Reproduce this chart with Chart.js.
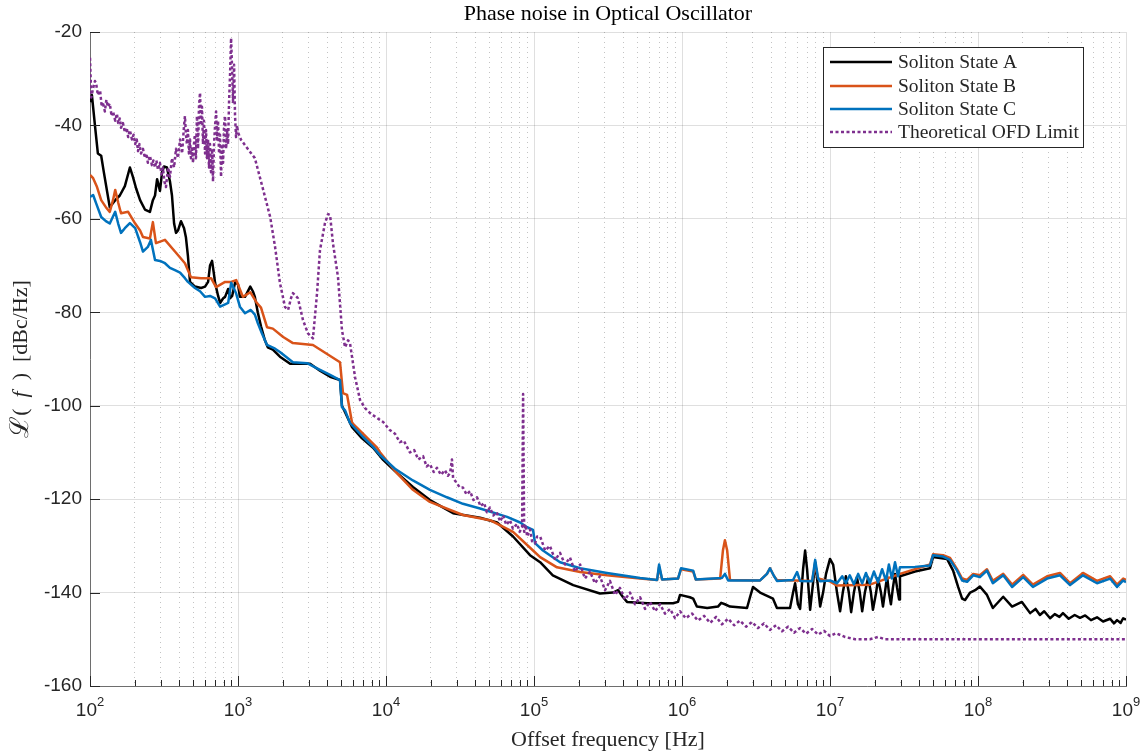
<!DOCTYPE html>
<html>
<head>
<meta charset="utf-8">
<script src="https://cdn.jsdelivr.net/npm/chart.js@4.4.1/dist/chart.umd.min.js"></script>
<style>
  html, body { margin: 0; padding: 0; background: #fff; }
  canvas { display: block; }
</style>
</head>
<body>
<canvas id="chart" width="1147" height="754"></canvas>
<script>
// values: [offset frequency Hz, dBc/Hz]
const stateA = [
  [100,-35],[103,-33.5],[108,-40],[113,-46],[119,-46.5],[124,-50],[136,-57.5],[148,-56],[159,-55],[172,-53],
  [186,-49],[195,-51],[205,-53.5],[218,-56],[235,-58],[254,-58.5],[266,-56],[275,-55],[284,-51.5],[297,-54],
  [307,-50],[316,-48.8],[331,-49],[347,-52],[358,-55],[370,-61],[381,-63],[393,-62.5],[412,-60.5],[432,-62],
  [445,-64],[459,-68],[474,-73.5],[512,-74.5],[563,-74.8],[599,-74.5],[628,-73.5],[647,-70],[668,-69],[689,-72],
  [700,-73.7],[734,-76.5],[757,-78],[794,-77],[818,-76.7],[858,-75],[885,-77],[913,-76.5],[957,-73.5],[1000,-74],
  [1030,-76.7],[1115,-76.7],[1210,-74.5],[1260,-75.5],[1300,-76.7],[1360,-80],[1430,-83],[1520,-86],[1590,-87.5],[1720,-88],
  [1920,-89.5],[2250,-91],[2500,-91],[3070,-91],[3580,-92.5],[4190,-93.8],[4890,-94.5],[5040,-100],[5290,-101.4],[5900,-104.6],
  [6890,-107],[8180,-109],[9570,-111.6],[1.15e4,-114],[1.52e4,-117.4],[1.98e4,-120.2],[2.84e4,-123],[4.32e4,-124],[5.63e4,-125],[7.22e4,-128],
  [9.4e4,-132],[1.10e5,-133.5],[1.34e5,-136.3],[1.84e5,-138.4],[2.79e5,-140.2],[3.42e5,-140],[3.70e5,-139.5],[4.0e5,-141],[4.25e5,-142],[5.81e5,-142.3],
  [8.7e5,-142.3],[9.4e5,-142],[9.7e5,-140.5],[1.13e6,-141],[1.19e6,-141.3],[1.26e6,-143],[1.48e6,-143.3],[1.75e6,-143],[1.84e6,-142.2],[1.95e6,-142.5],
  [2.11e6,-143],[2.75e6,-143.3],[2.88e6,-141],[3.02e6,-138.8],[3.37e6,-140],[4.12e6,-141.3],[4.38e6,-143.3],[5.37e6,-143.3],[5.63e6,-140],[5.81e6,-138],
  [6.07e6,-142.5],[6.28e6,-143.5],[6.58e6,-135],[6.79e6,-131],[7.0e6,-135],[7.34e6,-143.7],[7.68e6,-138],[7.94e6,-133.5],[8.18e6,-137],[8.58e6,-143],
  [8.98e6,-140],[9.4e6,-136],[1.0e7,-132.8],[1.05e7,-134],[1.115e7,-140],[1.17e7,-144],[1.22e7,-140],[1.28e7,-136.5],[1.34e7,-140],[1.39e7,-144.2],
  [1.45e7,-140],[1.52e7,-136.7],[1.59e7,-140],[1.65e7,-144],[1.72e7,-140],[1.81e7,-136.8],[1.89e7,-140],[1.95e7,-143.7],[2.05e7,-140],[2.11e7,-137],
  [2.21e7,-140],[2.28e7,-143],[2.35e7,-140],[2.43e7,-136.5],[2.50e7,-140],[2.58e7,-142.5],[2.66e7,-139],[2.75e7,-136],[2.84e7,-139],[2.93e7,-141.5],
  [2.97e7,-136.5],[3.75e7,-135.5],[4.74e7,-134.8],[4.97e7,-132.4],[6.18e7,-132.8],[6.79e7,-135.3],[7.34e7,-138.8],[7.81e7,-141.3],[8.18e7,-141.6],[8.85e7,-140],
  [9.57e7,-139.5],[1.03e8,-138.7],[1.15e8,-140.5],[1.26e8,-143.3],[1.48e8,-140.9],[1.70e8,-143],[1.98e8,-142],[2.25e8,-144.4],[2.45e8,-143.5],[2.62e8,-144.8],
  [2.8e8,-144],[3.07e8,-145.5],[3.3e8,-144.6],[3.55e8,-145.2],[3.75e8,-144.4],[4.1e8,-145.6],[4.5e8,-144.8],[4.89e8,-145.4],[5.3e8,-144.9],[5.8e8,-145.9],
  [6.37e8,-145.3],[7.0e8,-146.2],[7.81e8,-145.6],[8.3e8,-146.6],[8.7e8,-145.9],[9.2e8,-146.5],[9.57e8,-145.5],[1e9,-145.8]
];

const stateB = [
  [100,-50.6],[105,-51.3],[111,-53],[119,-56],[128,-57.5],[136,-58.5],[143,-56],[148,-53.8],[155,-56.5],[162,-58.8],
  [181,-58.5],[202,-61],[218,-62.5],[228,-63.9],[254,-64.2],[266,-60.7],[279,-65.2],[321,-64.5],[375,-67],[438,-69.5],
  [481,-72.5],[563,-72.7],[658,-72.7],[711,-74.6],[818,-73.5],[899,-73.5],[972,-73.1],[1080,-76.7],[1210,-75.7],[1340,-78],
  [1430,-79],[1570,-83.2],[1720,-83.5],[2020,-85.3],[2350,-86.6],[3210,-87],[4890,-90.7],[5120,-97.3],[5460,-97.7],[5900,-103.7],
  [8700,-109],[9130,-110],[1.19e4,-114.5],[1.52e4,-118],[1.98e4,-120.6],[3.31e4,-123.4],[5.04e4,-124.5],[7.22e4,-127],[9.85e4,-131],[1.10e5,-132.4],
  [1.43e5,-134.6],[2.05e5,-135.6],[3.11e5,-136.3],[5.21e5,-137],[6.79e5,-137.3],[7.0e5,-134.5],[7.34e5,-137.2],[9.4e5,-137],[9.85e5,-135],[1.19e6,-135.5],
  [1.24e6,-137.2],[1.81e6,-137],[1.89e6,-131],[1.95e6,-128.8],[2.02e6,-131],[2.11e6,-137.3],[3.37e6,-137.4],[3.75e6,-136],[3.93e6,-134.8],[4.19e6,-136.5],
  [4.38e6,-137.3],[7.57e6,-137.5],[7.94e6,-134],[8.31e6,-137],[1e7,-137.6],[1.115e7,-138.5],[1.86e7,-138.3],[2.97e7,-136],[4.74e7,-134],[4.97e7,-131.8],
  [5.81e7,-132],[6.47e7,-132.6],[7.22e7,-135],[7.81e7,-137],[8.44e7,-137.3],[9.28e7,-136],[1.03e8,-136.3],[1.15e8,-135],[1.26e8,-137.5],[1.48e8,-136],
  [1.70e8,-138.3],[2.02e8,-136.2],[2.35e8,-138.3],[2.93e8,-136.5],[3.58e8,-135.8],[4.19e8,-138],[5.12e8,-135.8],[6.37e8,-137.5],[7.81e8,-136.5],[8.7e8,-138.3],
  [9.57e8,-137],[1e9,-137.3]
];

const stateC = [
  [100,-55.3],[105,-54.9],[111,-57],[119,-59.6],[128,-60.5],[136,-61],[143,-59.5],[148,-58.5],[155,-61],[162,-63],
  [172,-62],[186,-60.9],[202,-62],[218,-65],[228,-67],[246,-66],[258,-64.5],[275,-68.8],[297,-69],[321,-69.5],
  [347,-70.5],[375,-71],[406,-71.5],[438,-72.7],[459,-73.5],[512,-74.8],[554,-75.5],[599,-76.7],[647,-76.5],[700,-77],
  [757,-78.8],[818,-78.3],[858,-78],[899,-73.7],[942,-75],[972,-76],[1030,-78.8],[1115,-80.2],[1220,-79.5],[1300,-80.5],
  [1360,-82.3],[1450,-84.5],[1570,-87],[1780,-87.8],[1920,-88.5],[2350,-90.7],[2930,-90.9],[3420,-92],[4190,-93.4],[4890,-94.5],
  [5040,-100.3],[5290,-101],[5710,-103.7],[7000,-106.7],[8180,-108.8],[9130,-110.6],[1.15e4,-113.5],[1.52e4,-116],[1.98e4,-118],[2.58e4,-119.6],
  [3.31e4,-121],[4.32e4,-122],[6.58e4,-123.8],[8.06e4,-125],[8.98e4,-126],[9.85e4,-126.6],[1.016e5,-129.4],[1.15e5,-131],[1.28e5,-132],[1.50e5,-133.5],
  [2.05e5,-134.8],[3.11e5,-135.8],[5.21e5,-136.9],[6.79e5,-137.3],[7.0e5,-134],[7.34e5,-137.2],[9.4e5,-137],[9.85e5,-134.8],[1.19e6,-135.3],[1.24e6,-137.2],
  [1.86e6,-136.9],[1.95e6,-136],[2.05e6,-137.4],[3.37e6,-137.4],[3.75e6,-136],[3.93e6,-134.8],[4.19e6,-136.5],[4.38e6,-137.5],[5.63e6,-137.3],[5.99e6,-135.6],
  [6.28e6,-137.5],[7.57e6,-137.6],[7.94e6,-133],[8.31e6,-137],[8.58e6,-137.6],[1e7,-137.4],[1.115e7,-138],[1.21e7,-136.5],[1.28e7,-138],[1.36e7,-136.3],
  [1.45e7,-138.2],[1.55e7,-136],[1.65e7,-138],[1.75e7,-135.8],[1.86e7,-138],[1.98e7,-135.5],[2.11e7,-137.8],[2.25e7,-135],[2.39e7,-137.5],[2.50e7,-134],
  [2.62e7,-137],[2.75e7,-133.5],[2.88e7,-136.5],[2.97e7,-134.6],[3.75e7,-134.5],[4.74e7,-134.2],[4.97e7,-132],[5.81e7,-132.3],[6.47e7,-133],[7.22e7,-135.3],
  [7.81e7,-137.4],[8.44e7,-137.7],[9.28e7,-136.3],[1.03e8,-136.7],[1.15e8,-135.3],[1.26e8,-138],[1.48e8,-136.3],[1.70e8,-138.8],[2.02e8,-136.7],[2.35e8,-138.8],
  [2.93e8,-137],[3.58e8,-136.3],[4.19e8,-138.4],[5.12e8,-136.3],[6.37e8,-138],[7.81e8,-137],[8.7e8,-138.8],[9.57e8,-137.4],[1e9,-137.8]
];

const ofdLimit = [
  [100,-25.5],[102,-34],[105,-32],[108,-30.5],[110,-31],[113,-33.5],[117,-32.5],[120,-36],[122,-35],[126,-37],
  [129,-34.5],[132,-36],[136,-35.3],[140,-38],[143,-37],[148,-39],[152,-37.5],[155,-39.5],[159,-38.5],[162,-40.5],
  [167,-39.5],[172,-41.5],[177,-40.5],[181,-42.5],[186,-41],[192,-43],[197,-42],[202,-44],[207,-43],[211,-45.5],
  [216,-44],[221,-46],[228,-45],[235,-47],[240,-46],[246,-48],[254,-46.5],[262,-48.5],[268,-47.5],[275,-49],
  [281,-47.5],[288,-49.5],[297,-48],[304,-50.5],[311,-49],[318,-52],[326,-53.2],[337,-49],[347,-51],[358,-47],
  [370,-49],[381,-45],[393,-47],[406,-43],[419,-46],[432,-40],[438,-38],[445,-42],[452,-44],[459,-41],
  [466,-46],[474,-43],[481,-47],[489,-45],[497,-48],[504,-44],[512,-42],[520,-47],[528,-38],[537,-45],
  [545,-36],[554,-33],[562,-40],[571,-36],[580,-44],[589,-39],[599,-46],[608,-41],[618,-47],[627,-43],
  [637,-49],[647,-44],[657,-50],[668,-45],[678,-52],[689,-44],[700,-40],[711,-37],[722,-43],[733,-39],
  [745,-46],[756,-42],[768,-51],[780,-44],[793,-48],[805,-40],[818,-38],[831,-45],[844,-41],[857,-44],
  [870,-35],[884,-29],[898,-21.3],[912,-28],[926,-35],[941,-27],[955,-38],[970,-42.5],[985,-40],[1000,-41.5],
  [1050,-43.1],[1150,-44.8],[1300,-47],[1480,-53.8],[1650,-59.6],[1780,-66],[1920,-73.7],[2080,-78.9],[2180,-79.5],[2280,-77],
  [2350,-75.9],[2460,-76.5],[2540,-77],[2750,-81.7],[2970,-84.5],[3210,-85.6],[3420,-75.9],[3580,-66.7],[3870,-60.9],[4060,-59],
  [4190,-59.2],[4380,-65.2],[4740,-72.5],[5040,-83.8],[5290,-87.5],[5540,-86],[5710,-86.6],[6180,-93.9],[6680,-98.8],[7220,-100.5],
  [7810,-101.6],[8580,-102.5],[9570,-103.5],[1.06e4,-105.2],[1.15e4,-106],[1.24e4,-107.8],[1.32e4,-107.5],[1.45e4,-110],[1.55e4,-109.5],[1.65e4,-111.5],
  [1.78e4,-110.8],[1.88e4,-113],[1.98e4,-112.5],[2.1e4,-114.2],[2.21e4,-113.3],[2.35e4,-114.8],[2.50e4,-113.8],[2.62e4,-115],[2.71e4,-114.4],[2.79e4,-111.5],
  [2.84e4,-115.5],[3.0e4,-116.5],[3.15e4,-117.5],[3.31e4,-117.5],[3.5e4,-119],[3.7e4,-118.3],[3.9e4,-120.2],[4.12e4,-119.6],[4.35e4,-121.5],[4.6e4,-120.8],
  [4.8e4,-122.8],[5.04e4,-121.8],[5.3e4,-123.5],[5.6e4,-122.8],[5.9e4,-124.8],[6.18e4,-123.5],[6.5e4,-125.5],[6.89e4,-124.5],[7.2e4,-126.3],[7.68e4,-125.3],
  [8.0e4,-127],[8.31e4,-126],[8.44e4,-97.5],[8.58e4,-127],[8.8e4,-125.5],[8.98e4,-128],[9.4e4,-126.5],[9.7e4,-129],[1.016e5,-129.5],[1.05e5,-128],
  [1.10e5,-128],[1.19e5,-131],[1.28e5,-130],[1.39e5,-133],[1.50e5,-131.5],[1.62e5,-134],[1.75e5,-132.5],[1.89e5,-135.5],[2.05e5,-134],[2.21e5,-137],
  [2.39e5,-135.5],[2.58e5,-138],[2.79e5,-136.5],[3.02e5,-139.5],[3.26e5,-137.5],[3.53e5,-140.5],[3.81e5,-139],[4.12e5,-141.5],[4.45e5,-140],[4.81e5,-142.5],
  [5.21e5,-141],[5.63e5,-143.5],[6.07e5,-142],[6.58e5,-144],[7.11e5,-142.5],[7.68e5,-144.5],[8.31e5,-143.5],[8.98e5,-145.5],[9.7e5,-144],[1.06e6,-145.5],
  [1.17e6,-144.5],[1.28e6,-146],[1.41e6,-145],[1.55e6,-146.5],[1.70e6,-145.2],[1.86e6,-146.8],[2.05e6,-145.6],[2.25e6,-147],[2.46e6,-146],[2.71e6,-147.3],
  [2.97e6,-146.3],[3.26e6,-147.6],[3.58e6,-146.6],[3.93e6,-148],[4.32e6,-147],[4.74e6,-148.3],[5.21e6,-147.3],[5.71e6,-148.6],[6.28e6,-147.6],[6.89e6,-148.8],
  [7.57e6,-147.8],[8.31e6,-149],[9.13e6,-148.2],[1e7,-149.3],[1.10e7,-148.7],[1.26e7,-149.5],[1.48e7,-150],[1.86e7,-150],[2.11e7,-149.5],[2.35e7,-150],
  [1e9,-150]
];

const seriesNames = ['Soliton State A', 'Soliton State B', 'Soliton State C', 'Theoretical OFD Limit'];
const xDecades = [2, 3, 4, 5, 6, 7, 8, 9];
const yTicks = [-160, -140, -120, -100, -80, -60, -40, -20];
const titleText = 'Phase noise in Optical Oscillator';
const xTitle = 'Offset frequency [Hz]';

const colors = ['#000000', '#D95319', '#0072BD', '#7E2F8E'];
const majorGrid = 'rgba(38,38,38,0.15)';
const minorGrid = 'rgba(38,38,38,0.28)';
const serif = '"Liberation Serif", "DejaVu Serif", serif';
const sans = '"Liberation Sans", Arial, sans-serif';

// grid/tick positions: 1..9 x 10^k
const xGrid = [];
xDecades.slice(0, -1).forEach(k => { for (let m = 1; m < 10; m++) xGrid.push(m * Math.pow(10, k)); });
xGrid.push(Math.pow(10, xDecades[xDecades.length - 1]));

const isDecade = v => v != null && Math.abs(Math.log10(v) - Math.round(Math.log10(v))) < 1e-9;

const decorations = {
  id: 'decorations',
  afterDraw(chart) {
    const { ctx, chartArea: a, scales: { x, y } } = chart;
    ctx.save();

    // inward tick marks
    ctx.strokeStyle = '#262626';
    ctx.lineWidth = 1;
    ctx.setLineDash([]);
    xGrid.forEach(v => {
      const px = Math.round(x.getPixelForValue(v)) + 0.5;
      const len = isDecade(v) ? 10 : 6;
      ctx.beginPath(); ctx.moveTo(px, a.bottom); ctx.lineTo(px, a.bottom - len); ctx.stroke();
    });
    yTicks.forEach(v => {
      const py = Math.round(y.getPixelForValue(v)) + 0.5;
      ctx.beginPath(); ctx.moveTo(a.left, py); ctx.lineTo(a.left + 10, py); ctx.stroke();
    });

    // x tick labels 10^k
    ctx.fillStyle = '#262626';
    ctx.textBaseline = 'alphabetic';
    ctx.textAlign = 'left';
    xDecades.forEach(k => {
      const px = x.getPixelForValue(Math.pow(10, k));
      ctx.font = '19px ' + sans;
      const w1 = ctx.measureText('10').width;
      ctx.font = '13px ' + sans;
      const w2 = ctx.measureText(String(k)).width;
      const x0 = px - (w1 + w2) / 2;
      ctx.font = '19px ' + sans;
      ctx.fillText('10', x0, 716);
      ctx.font = '13px ' + sans;
      ctx.fillText(String(k), x0 + w1, 706);
    });

    // titles
    const cx = (a.left + a.right) / 2;
    ctx.textAlign = 'center';
    ctx.textBaseline = 'middle';
    ctx.fillStyle = '#000';
    ctx.font = '22px ' + serif;
    ctx.fillText(titleText, cx, 14);
    ctx.fillStyle = '#262626';
    ctx.font = '22px ' + serif;
    ctx.fillText(xTitle, cx, 740);

    // y title: ℒ( f ) [dBc/Hz]
    ctx.save();
    ctx.translate(21, (a.top + a.bottom) / 2);
    ctx.rotate(-Math.PI / 2);
    const parts = [['ℒ', '26px ' + serif], ['(  ', '22px ' + serif], ['f', 'italic 22px ' + serif], ['  )  [dBc/Hz]', '22px ' + serif]];
    let total = 0;
    parts.forEach(p => { ctx.font = p[1]; total += ctx.measureText(p[0]).width; });
    let tx = -total / 2;
    ctx.textAlign = 'left';
    parts.forEach(p => { ctx.font = p[1]; ctx.fillText(p[0], tx, 0); tx += ctx.measureText(p[0]).width; });
    ctx.restore();

    // legend box
    const lx = 823, ly = 47, lw = 260, lh = 100;
    ctx.fillStyle = '#fff';
    ctx.fillRect(lx, ly, lw, lh);
    ctx.strokeStyle = '#262626';
    ctx.lineWidth = 1;
    ctx.strokeRect(lx + 0.5, ly + 0.5, lw, lh);
    const rows = [62, 86, 109, 132];
    ctx.textAlign = 'left';
    ctx.textBaseline = 'middle';
    seriesNames.forEach((name, i) => {
      ctx.strokeStyle = colors[i];
      ctx.lineWidth = 2.5;
      ctx.setLineDash(i === 3 ? [3, 2.5] : []);
      ctx.beginPath(); ctx.moveTo(830, rows[i]); ctx.lineTo(892, rows[i]); ctx.stroke();
      ctx.setLineDash([]);
      ctx.fillStyle = '#262626';
      ctx.font = '19.5px ' + serif;
      ctx.fillText(name, 898, rows[i] + 1);
    });

    ctx.restore();
  }
};

const datasets = [stateA, stateB, stateC, ofdLimit].map((d, i) => ({
  label: seriesNames[i],
  data: d.map(([f, v]) => ({ x: f, y: v })),
  borderColor: colors[i],
  backgroundColor: colors[i],
  borderWidth: 2.5,
  borderDash: i === 3 ? [3, 2.5] : [],
  borderJoinStyle: 'round',
  pointRadius: 0,
  tension: 0,
  fill: false,
  order: 4 - i
}));

new Chart(document.getElementById('chart'), {
  type: 'line',
  data: { datasets },
  options: {
    responsive: false,
    animation: false,
    devicePixelRatio: 1,
    layout: { padding: { top: 32, right: 21, left: 0, bottom: 0 } },
    plugins: {
      legend: { display: false },
      title: { display: false },
      tooltip: { enabled: false }
    },
    scales: {
      x: {
        type: 'logarithmic',
        min: 1e2,
        max: 1e9,
        afterBuildTicks: s => { s.ticks = xGrid.map(v => ({ value: v })); },
        afterFit: s => { s.height = 68; },
        ticks: { display: false },
        grid: {
          drawTicks: false,
          lineWidth: 1,
          color: c => (c.tick && !isDecade(c.tick.value)) ? minorGrid : majorGrid
        },
        border: {
          display: true,
          color: '#6e6e6e',
          width: 1,
          dash: c => (c.tick && !isDecade(c.tick.value)) ? [1, 4] : []
        }
      },
      y: {
        min: -160,
        max: -20,
        afterBuildTicks: s => { s.ticks = yTicks.map(v => ({ value: v })); },
        afterFit: s => { s.width = 90; },
        ticks: { font: { family: 'Liberation Sans', size: 19 }, color: '#262626', padding: 8 },
        grid: { drawTicks: false, lineWidth: 1, color: majorGrid },
        border: { display: true, color: '#6e6e6e', width: 1 }
      }
    }
  },
  plugins: [decorations]
});
</script>
</body>
</html>
